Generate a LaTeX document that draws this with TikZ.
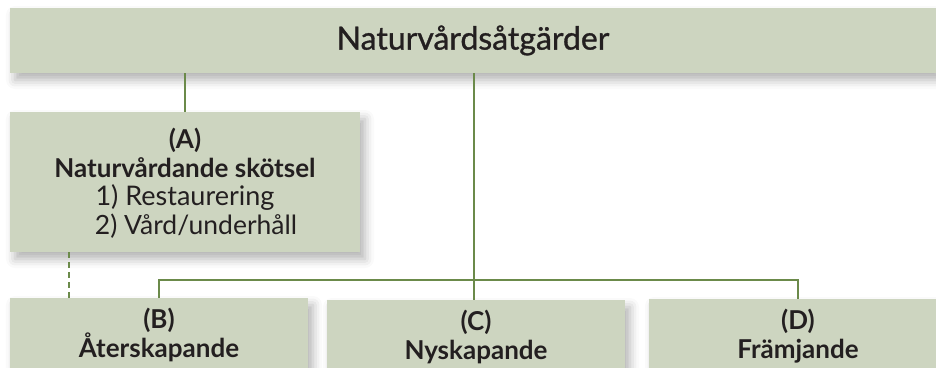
\documentclass[tikz,border=0pt]{standalone}
\usepackage{fontspec}
\setmainfont{Lato}
\newfontfamily\titlefont{Lato}[FakeBold=1.0]
\usetikzlibrary{shadows.blur,calc}
\definecolor{boxfill}{HTML}{CDD5C0}
\definecolor{linegreen}{HTML}{6B8A4A}
\definecolor{txt}{HTML}{231F20}
\begin{document}
\begin{tikzpicture}[x=1pt,y=-1pt,
  box/.style={fill=boxfill, draw=none, rectangle, inner sep=0pt, text=txt,
    align=center, blur shadow={shadow xshift=5pt, shadow yshift=-7pt, shadow blur radius=9pt, shadow opacity=30}},
  conn/.style={draw=linegreen, line width=1.8pt},
  bigtext/.style={font=\fontsize{32}{34}\selectfont\titlefont},
  boxtext/.style={font=\fontsize{26}{28.5}\selectfont\bfseries},
  plainline/.style={}
]
\useasboundingbox (0,0) rectangle (936,367);
\node[box, bigtext, minimum width=926pt, minimum height=65pt] (top) at (473,40.5) {Naturvårdsåtgärder};
\node[box, boxtext, minimum width=350pt, minimum height=140pt, text depth=1pt] (A) at (185,182)
  {(A)\\Naturvårdande skötsel\\{\mdseries\fontsize{27}{28.5}\selectfont 1) Restaurering}\\{\mdseries\fontsize{26.5}{28.5}\selectfont\hspace*{22pt}2) Vård/underhåll}};
\node[box, boxtext, minimum width=298pt, minimum height=74pt] (B) at (159,335) {(B)\\Återskapande};
\node[box, boxtext, minimum width=298pt, minimum height=74pt] (C) at (476,337) {(C)\\Nyskapande};
\node[box, boxtext, minimum width=298pt, minimum height=74pt] (D) at (798,336) {(D)\\Främjande};
\coordinate (bus) at (474,280);
\coordinate (dashx) at (69,0);
\draw[conn] (A.north) -- (A.north |- top.south);
\draw[conn] (bus |- top.south) -- (bus |- C.north);
\draw[conn] (B.north) -- (B.north |- bus) -- (D.north |- bus) -- (D.north);
\draw[conn, line width=1.4pt, dash pattern=on 6pt off 4pt] (dashx |- A.south) -- (dashx |- B.north);
\end{tikzpicture}
\end{document}
